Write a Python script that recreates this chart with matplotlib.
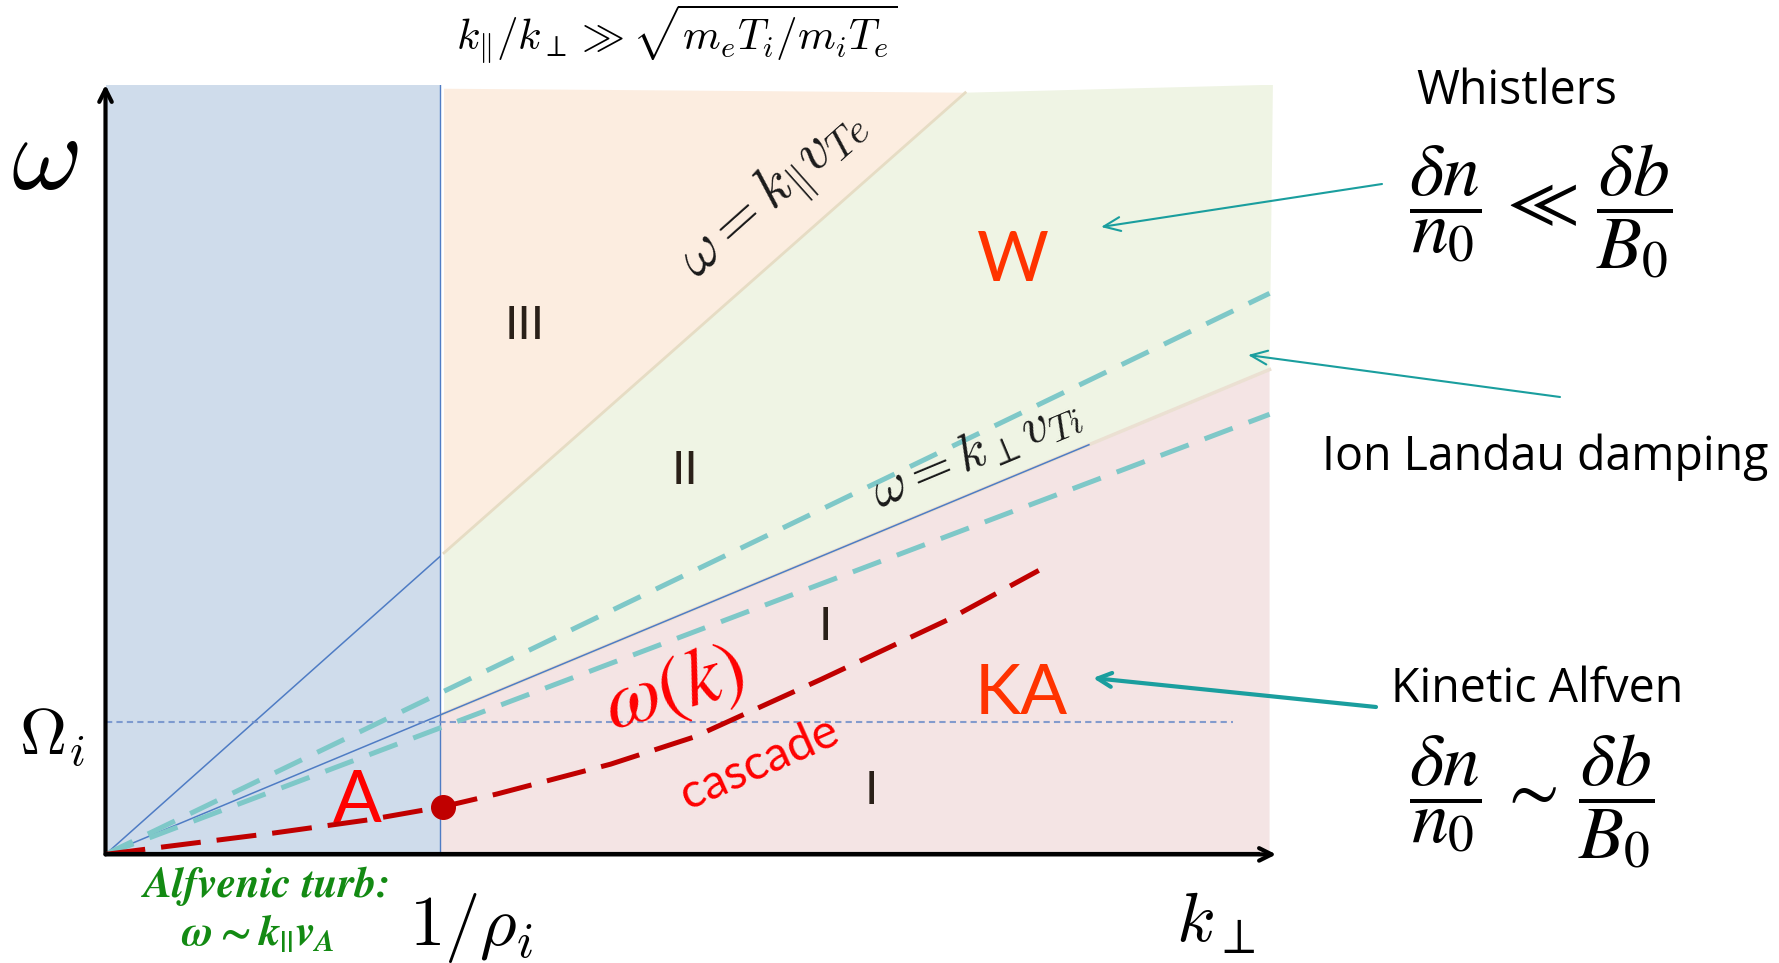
import matplotlib.pyplot as plt

W, H, DPI = 1779, 963, 100

# dispersion-plane schematic: x = k_perp * rho_i, y = omega / Omega_i
x_max, y_max = 3.5, 5.8
k_rho = 1.0            # k_perp = 1/rho_i
omega_ci = 1.0         # Omega_i
slope_te = 2.245       # omega = k_par v_Te
slope_ti = 1.05        # omega = k_perp v_Ti
slope_damp = [1.215, 0.953]   # ion Landau damping band edges
ti_line_end = 2.94
omega_ci_end = 3.37
region_top = 5.77
region_right = 3.48

# omega(k) cascade curve
cascade_k = [0, 0.178, 0.50, 0.785, 1.01, 1.17, 1.51, 1.76, 2.14, 2.52, 2.79]
cascade_w = [0, 0.058, 0.16, 0.26, 0.36, 0.455, 0.68, 0.885, 1.32, 1.77, 2.14]
break_k, break_w = 1.01, 0.36

BLUE_BG = "#cfdceb"
PEACH_BG = "#fcede0"
GREEN_BG = "#eff4e4"
PINK_BG = "#f4e4e4"
LINE_BLUE = "#4f7cc4"
TEAL_DASH = "#7ec8c8"
TEAL = "#1a9e9e"
DARK_RED = "#c00000"

plt.rcParams["mathtext.fontset"] = "cm"
plt.rcParams["mathtext.it"] = "STIXGeneral:italic:bold"
plt.rcParams["mathtext.rm"] = "STIXGeneral:bold"
plt.rcParams["mathtext.bf"] = "STIXGeneral:bold"


def fpos(px, py):
    """Pixel position measured from the top-left corner -> figure fraction."""
    return px / W, 1 - py / H


fig = plt.figure(figsize=(W / DPI, H / DPI), dpi=DPI)
x0, y0 = fpos(105.5, 854.4)
ax = fig.add_axes([x0, y0, x_max * 334.5 / W, y_max * 132.7 / H])
ax.set_xlim(0, x_max)
ax.set_ylim(0, y_max)
ax.axis("off")

# background regions
gap = 0.012
te_top = region_top / slope_te
ax.fill([0, k_rho, k_rho, 0], [0, 0, y_max, y_max], color=BLUE_BG, lw=0, zorder=0)
ax.fill([k_rho + gap, k_rho + gap, te_top],
        [slope_te * (k_rho + gap), region_top, region_top - 0.03],
        color=PEACH_BG, lw=0, zorder=0)
ax.fill([k_rho + gap, te_top, region_right + 0.01, region_right, k_rho + gap],
        [slope_te * (k_rho + gap), region_top - 0.03, y_max, slope_ti * region_right,
         slope_ti * (k_rho + gap)],
        color=GREEN_BG, lw=0, zorder=0)
ax.fill([k_rho, k_rho, region_right, region_right],
        [0, slope_ti * k_rho, slope_ti * region_right, 0],
        color=PINK_BG, lw=0, zorder=0)

# soft seams between the regions
ax.plot([k_rho + gap, te_top], [slope_te * (k_rho + gap), region_top - 0.03],
        color="#e6dcc4", lw=2, zorder=1)
ax.plot([k_rho, region_right], [slope_ti * k_rho, slope_ti * region_right],
        color="#ebe0d2", lw=2.5, zorder=1)

# characteristic lines
ax.plot([0, k_rho], [0, slope_te * k_rho], color=LINE_BLUE, lw=1.1, zorder=2)
ax.plot([0, ti_line_end], [0, slope_ti * ti_line_end], color=LINE_BLUE, lw=1.1, zorder=2)
ax.plot([k_rho, k_rho], [0, y_max], color=LINE_BLUE, lw=1.0, zorder=2)
ax.plot([0, omega_ci_end], [omega_ci, omega_ci], color="#6f8fca", lw=1.5,
        dashes=(3, 2), alpha=0.85, zorder=2)
for s in slope_damp:
    ax.plot([0, region_right], [0, s * region_right], color=TEAL_DASH, lw=3.6,
            dashes=(6.0, 3.4), zorder=3)

# cascade
ax.plot(cascade_k, cascade_w, color=DARK_RED, lw=3.6, dashes=(8, 3.2), zorder=4)
ax.plot([break_k], [break_w], "o", color=DARK_RED, ms=17, zorder=5)

# axes arrows
arrow = dict(arrowstyle="->,head_length=0.9,head_width=0.45", lw=3, color="black",
             shrinkA=0, shrinkB=0)
ax.annotate("", xy=(0, y_max), xytext=(0, 0), arrowprops=arrow, annotation_clip=False)
ax.annotate("", xy=(x_max, 0), xytext=(0, 0), arrowprops=arrow, annotation_clip=False)
ax.plot([0, x_max - 0.05], [0, 0], color="black", lw=3, zorder=6, solid_capstyle="butt")

# region labels
roman = dict(family="Lato", fontsize=34, color="#2a2018", ha="center", va="center")
ax.text(1.254, 3.98, "III", **roman)
ax.text(1.732, 2.89, "II", **roman)
ax.text(2.153, 1.71, "I", **roman)
ax.text(2.288, 0.48, "I", **roman)
ax.text(2.712, 4.47, "W", family="Lato", fontsize=50, color="#ff3300", ha="center", va="center")
ax.text(2.736, 1.205, "KA", family="Lato", fontsize=50, color="#ff3300", ha="center", va="center")
ax.text(0.753, 0.40, "A", family="Lato", fontsize=52, color="#ff0000", ha="center", va="center")
ax.text(1.70, 1.25, r"$\omega(k)$", math_fontfamily="stix", fontsize=58, color="#ff0000",
        rotation=16, ha="center", va="center", rotation_mode="anchor")
ax.text(1.956, 0.69, "cascade", family="Lato", fontsize=35, color="#ff0000",
        rotation=24, ha="center", va="center", rotation_mode="anchor")
ax.text(2.0, 4.97, r"$\omega = k_{\|} v_{Te}$", math_fontfamily="cm", fontsize=42,
        rotation=41.7, ha="center", va="center", rotation_mode="anchor", color="#1a1a1a")
ax.text(2.6, 3.04, r"$\omega = k_\perp v_{Ti}$", math_fontfamily="cm", fontsize=38,
        rotation=22.6, ha="center", va="center", rotation_mode="anchor", color="#1a1a1a")

# axis labels
fig.text(*fpos(45, 159), r"$\omega$", math_fontfamily="cm", fontsize=78, ha="center", va="center")
fig.text(*fpos(52, 737), r"$\Omega_i$", math_fontfamily="cm", fontsize=47, ha="center", va="center")
fig.text(*fpos(471, 928), r"$1/\rho_i$", math_fontfamily="cm", fontsize=51, ha="center", va="center")
fig.text(*fpos(1216, 922), r"$k_\perp$", math_fontfamily="cm", fontsize=51, ha="center", va="center")
fig.text(*fpos(677, 34), r"$k_{\|}/k_\perp \gg \sqrt{m_eT_i/m_iT_e}$", math_fontfamily="cm",
         fontsize=31, ha="center", va="center")
fig.text(*fpos(268, 886), "Alfvenic turb:", family="STIXGeneral", fontweight="bold",
         fontstyle="italic", fontsize=31, color="#138a13", ha="center", va="center")
fig.text(*fpos(258, 934), r"$\omega \sim k_{||}v_A$", math_fontfamily="custom", fontsize=31,
         color="#138a13", ha="center", va="center")

# wave branches on the right
side = dict(family="Open Sans", fontsize=33.5, ha="center", va="center")
fig.text(*fpos(1517, 91), "Whistlers", **side)
fig.text(*fpos(1541, 212), r"$\dfrac{\delta n}{n_0}\,\ll\,\dfrac{\delta b}{B_0}$",
         math_fontfamily="stix", fontsize=53, ha="center", va="center")
fig.text(*fpos(1545, 457), "Ion Landau damping", **side)
fig.text(*fpos(1537, 689), "Kinetic Alfven", **side)
fig.text(*fpos(1532, 802), r"$\dfrac{\delta n}{n_0}\,\sim\,\dfrac{\delta b}{B_0}$",
         math_fontfamily="stix", fontsize=53, ha="center", va="center")

thin = dict(arrowstyle="->,head_length=1.2,head_width=0.5", lw=1.5, color=TEAL,
            shrinkA=0, shrinkB=0)
thick = dict(arrowstyle="->,head_length=1.0,head_width=0.5", lw=3, color=TEAL,
             shrinkA=0, shrinkB=0)
fig.add_artist(plt.Annotation("", xy=fpos(1101, 227), xytext=fpos(1382, 184),
                              xycoords="figure fraction", arrowprops=thin))
fig.add_artist(plt.Annotation("", xy=fpos(1248, 355), xytext=fpos(1560, 397),
                              xycoords="figure fraction", arrowprops=thin))
fig.add_artist(plt.Annotation("", xy=fpos(1093, 678), xytext=fpos(1376, 707),
                              xycoords="figure fraction", arrowprops=thick))

fig.savefig("out.png", dpi=DPI)
